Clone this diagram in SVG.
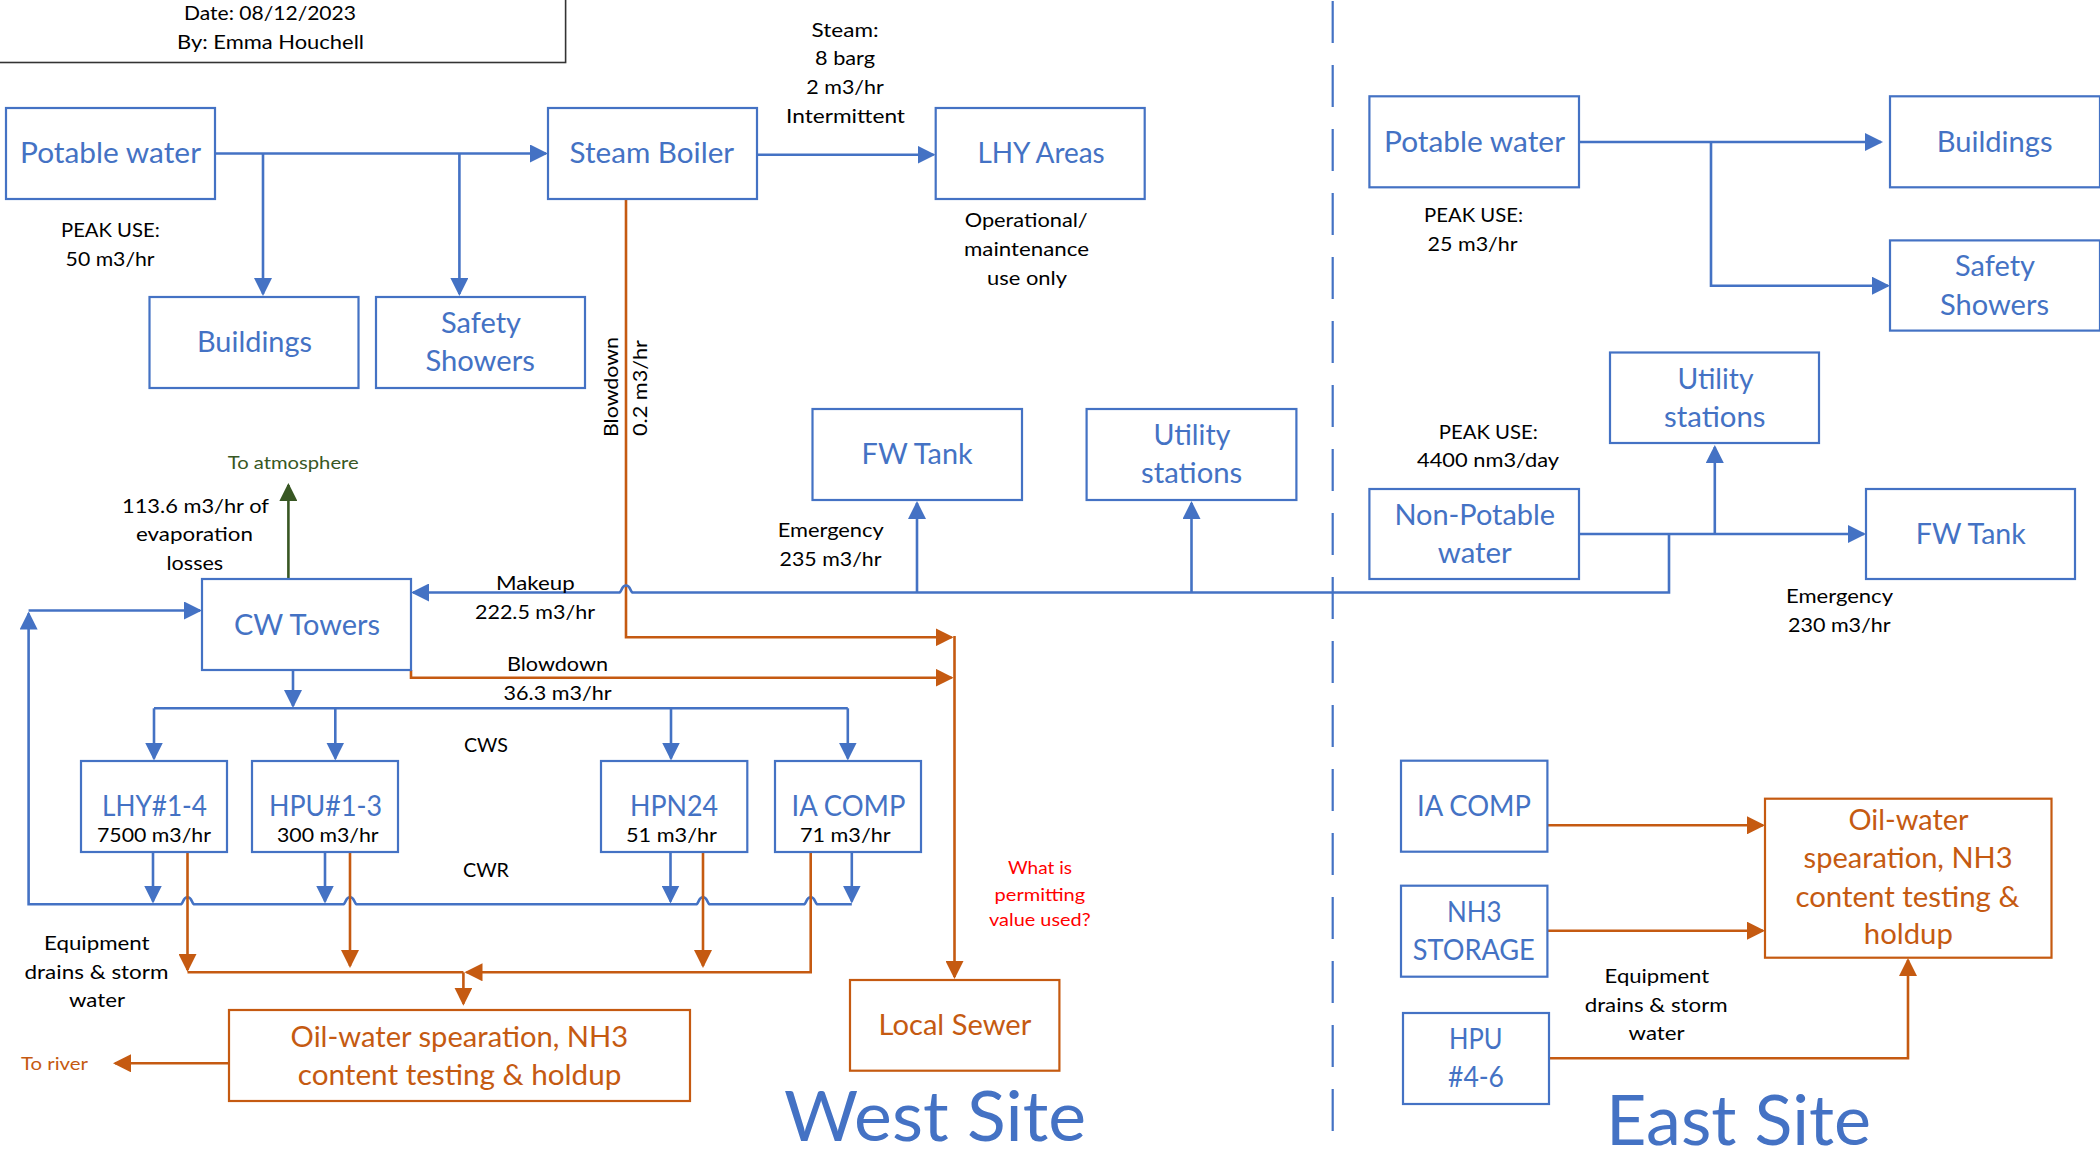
<svg xmlns="http://www.w3.org/2000/svg" width="2100" height="1151" viewBox="0 0 2100 1151">
<style>
text{font-family:"Lato","Carlito","Liberation Sans",sans-serif;white-space:pre}
rect{fill:#fff;stroke-width:2.2}
.b rect{stroke:#4472C4}
.o rect{stroke:#C55A11}
.bt{font-size:28px;fill:#4472C4}
.ot{font-size:28px;fill:#C55A11}
.k{font-size:20px;fill:#000}
.s{font-size:18px}
.site{font-size:70px;fill:#4472C4}
path{fill:none;stroke-width:2.6}
.lb{stroke:#4472C4}
.lo{stroke:#C55A11}
.lg{stroke:#385723}
.ab{marker-end:url(#ab)}
.ao{marker-end:url(#ao)}
.ag{marker-end:url(#ag)}
</style>
<defs>
<marker id="ab" markerUnits="userSpaceOnUse" markerWidth="18" markerHeight="18" refX="16" refY="9" orient="auto"><polygon points="0,0 18,9 0,18" fill="#4472C4"/></marker>
<marker id="ao" markerUnits="userSpaceOnUse" markerWidth="18" markerHeight="18" refX="16" refY="9" orient="auto"><polygon points="0,0 18,9 0,18" fill="#C55A11"/></marker>
<marker id="ag" markerUnits="userSpaceOnUse" markerWidth="18" markerHeight="18" refX="16" refY="9" orient="auto"><polygon points="0,0 18,9 0,18" fill="#385723"/></marker>
</defs>
<rect width="2100" height="1151" style="fill:#fff;stroke:none"/>

<g id="connectors">
<path class="lb ab" d="M215 153.5H546"/>
<path class="lb ab" d="M263 153.5V294"/>
<path class="lb ab" d="M459.4 153.5V294"/>
<path class="lb ab" d="M757 154.7H933.5"/>
<path class="lo ao" d="M626 199V637.3H951.6"/>
<path class="lb ab" d="M1579 534H1864"/>
<path class="lb ab" d="M1714.8 534V447"/>
<path class="lb ab" d="M1669 534V592.5H633c-3 0-2-7-7-7s-4 7-7 7H413"/>
<path class="lb ab" d="M917 592.5V503"/>
<path class="lb ab" d="M1191.5 592.5V503"/>
<path class="lg ag" d="M288.4 579V485"/>
<path class="lb ab" d="M851.8 904.3H817.7c-3 0-2-7-7-7s-4 7-7 7H710c-3 0-2-7-7-7s-4 7-7 7H357c-3 0-2-7-7-7s-4 7-7 7H194.5c-3 0-2-7-7-7s-4 7-7 7H28.6V613.5"/>
<path class="lb ab" d="M28.6 610.5H200"/>
<path class="lb ab" d="M293 670V706"/>
<path class="lb" d="M154 708.3H847.8"/>
<path class="lb ab" d="M154 708.3V758.5"/>
<path class="lb ab" d="M335.3 708.3V758.5"/>
<path class="lb ab" d="M671 708.3V758.5"/>
<path class="lb ab" d="M847.8 708.3V758.5"/>
<path class="lb ab" d="M153 852V901.5"/>
<path class="lb ab" d="M325 852V901.5"/>
<path class="lb ab" d="M670.5 852V901.5"/>
<path class="lb ab" d="M851.8 852V901.5"/>
<path class="lo ao" d="M411 670V677.7H951.6"/>
<path class="lo ao" d="M954.5 636V977"/>
<path class="lo ao" d="M187.5 851V970"/>
<path class="lo ao" d="M350 851V966"/>
<path class="lo ao" d="M703 851V966"/>
<path class="lo" d="M187.5 972.3H463.4"/>
<path class="lo ao" d="M810.7 851V972.3H466.5"/>
<path class="lo ao" d="M463.4 972.3V1003.7"/>
<path class="lo ao" d="M229 1063.3H115"/>
<path class="lb ab" d="M1579 142H1881"/>
<path class="lb ab" d="M1711 142V285.7H1888"/>
<path class="lo ao" d="M1547.4 825.3H1763"/>
<path class="lo ao" d="M1547.4 930.7H1763"/>
<path class="lo ao" d="M1549 1058.3H1908V960"/>
<path style="stroke:#4472C4;stroke-width:2.2;stroke-dasharray:42 22" d="M1332.7 1V1131"/>
</g>

<g id="title-block">
<rect x="-3" y="-3" width="568.6" height="65.5" style="stroke:#333;stroke-width:1.6"/>
<text class="k" x="184" y="20" textLength="172" lengthAdjust="spacingAndGlyphs">Date: 08/12/2023</text>
<text class="k" x="177" y="49" textLength="187" lengthAdjust="spacingAndGlyphs">By: Emma Houchell</text>
</g>

<g id="west-potable" class="b"><rect x="6" y="108" width="209" height="91"/><text class="bt" x="20" y="162.7" textLength="181" lengthAdjust="spacingAndGlyphs">Potable water</text></g>
<g id="west-boiler" class="b"><rect x="548" y="108" width="209" height="91"/><text class="bt" x="569.6" y="162.7" textLength="164.5" lengthAdjust="spacingAndGlyphs">Steam Boiler</text></g>
<g id="west-lhy-areas" class="b"><rect x="935.7" y="108" width="209" height="91"/><text class="bt" x="977.4" y="162.7" textLength="127.3" lengthAdjust="spacingAndGlyphs">LHY Areas</text></g>
<g id="west-buildings" class="b"><rect x="149.5" y="297" width="209" height="91"/><text class="bt" x="197" y="352" textLength="115" lengthAdjust="spacingAndGlyphs">Buildings</text></g>
<g id="west-showers" class="b"><rect x="376" y="297" width="209" height="91"/><text class="bt" x="441" y="332.7" textLength="80" lengthAdjust="spacingAndGlyphs">Safety</text><text class="bt" x="425.4" y="371" textLength="109.4" lengthAdjust="spacingAndGlyphs">Showers</text></g>
<g id="west-fw-tank" class="b"><rect x="812.5" y="409" width="209.5" height="91"/><text class="bt" x="861.6" y="464.3" textLength="111" lengthAdjust="spacingAndGlyphs">FW Tank</text></g>
<g id="west-utility" class="b"><rect x="1086.6" y="409" width="209.8" height="91"/><text class="bt" x="1153.6" y="445" textLength="76.8" lengthAdjust="spacingAndGlyphs">Utility</text><text class="bt" x="1141" y="483.3" textLength="101.3" lengthAdjust="spacingAndGlyphs">stations</text></g>
<g id="west-cw-towers" class="b"><rect x="202" y="579" width="209" height="91"/><text class="bt" x="234" y="635" textLength="146" lengthAdjust="spacingAndGlyphs">CW Towers</text></g>
<g id="west-lhy" class="b"><rect x="81" y="761" width="146" height="91"/><text class="bt" x="102" y="816" textLength="105" lengthAdjust="spacingAndGlyphs">LHY#1-4</text><text class="k" x="97" y="842" textLength="114" lengthAdjust="spacingAndGlyphs">7500 m3/hr</text></g>
<g id="west-hpu" class="b"><rect x="252" y="761" width="146" height="91"/><text class="bt" x="269" y="816" textLength="113" lengthAdjust="spacingAndGlyphs">HPU#1-3</text><text class="k" x="277" y="842" textLength="101.6" lengthAdjust="spacingAndGlyphs">300 m3/hr</text></g>
<g id="west-hpn" class="b"><rect x="601" y="761" width="146.3" height="91"/><text class="bt" x="630" y="816" textLength="88" lengthAdjust="spacingAndGlyphs">HPN24</text><text class="k" x="626" y="842" textLength="91" lengthAdjust="spacingAndGlyphs">51 m3/hr</text></g>
<g id="west-ia" class="b"><rect x="775" y="761" width="146" height="91"/><text class="bt" x="791.5" y="816" textLength="114" lengthAdjust="spacingAndGlyphs">IA COMP</text><text class="k" x="800" y="842" textLength="90.6" lengthAdjust="spacingAndGlyphs">71 m3/hr</text></g>
<g id="west-oil" class="o"><rect x="229" y="1010" width="461" height="91"/><text class="ot" x="290.6" y="1047" textLength="337.5" lengthAdjust="spacingAndGlyphs">Oil-water spearation, NH3</text><text class="ot" x="297.8" y="1085" textLength="323.6" lengthAdjust="spacingAndGlyphs">content testing &amp; holdup</text></g>
<g id="west-sewer" class="o"><rect x="850" y="980" width="209.4" height="90.7"/><text class="ot" x="878.6" y="1035" textLength="152.7" lengthAdjust="spacingAndGlyphs">Local Sewer</text></g>

<g id="east-potable" class="b"><rect x="1369.4" y="96.3" width="209.6" height="91"/><text class="bt" x="1384" y="151.8" textLength="181" lengthAdjust="spacingAndGlyphs">Potable water</text></g>
<g id="east-buildings" class="b"><rect x="1890" y="96.3" width="210" height="91"/><text class="bt" x="1936.7" y="151.8" textLength="115.8" lengthAdjust="spacingAndGlyphs">Buildings</text></g>
<g id="east-showers" class="b"><rect x="1890" y="240.4" width="210" height="90.2"/><text class="bt" x="1955" y="275.5" textLength="80" lengthAdjust="spacingAndGlyphs">Safety</text><text class="bt" x="1940" y="314.7" textLength="109" lengthAdjust="spacingAndGlyphs">Showers</text></g>
<g id="east-utility" class="b"><rect x="1610" y="352.5" width="209" height="90.5"/><text class="bt" x="1677.5" y="389" textLength="76" lengthAdjust="spacingAndGlyphs">Utility</text><text class="bt" x="1664" y="427" textLength="101.5" lengthAdjust="spacingAndGlyphs">stations</text></g>
<g id="east-non-potable" class="b"><rect x="1369.4" y="489" width="209.6" height="90"/><text class="bt" x="1394.4" y="525.3" textLength="160.7" lengthAdjust="spacingAndGlyphs">Non-Potable</text><text class="bt" x="1437.8" y="563" textLength="74" lengthAdjust="spacingAndGlyphs">water</text></g>
<g id="east-fw-tank" class="b"><rect x="1866" y="489" width="209" height="90"/><text class="bt" x="1915.8" y="544" textLength="110" lengthAdjust="spacingAndGlyphs">FW Tank</text></g>
<g id="east-ia" class="b"><rect x="1401" y="760.7" width="146.4" height="91"/><text class="bt" x="1417" y="816" textLength="114" lengthAdjust="spacingAndGlyphs">IA COMP</text></g>
<g id="east-nh3" class="b"><rect x="1401" y="885.7" width="146.4" height="91"/><text class="bt" x="1447" y="921.7" textLength="54.6" lengthAdjust="spacingAndGlyphs">NH3</text><text class="bt" x="1412.8" y="960" textLength="122" lengthAdjust="spacingAndGlyphs">STORAGE</text></g>
<g id="east-hpu" class="b"><rect x="1403" y="1013" width="146" height="91"/><text class="bt" x="1449" y="1049" textLength="53.6" lengthAdjust="spacingAndGlyphs">HPU</text><text class="bt" x="1448" y="1087.3" textLength="56" lengthAdjust="spacingAndGlyphs">#4-6</text></g>
<g id="east-oil" class="o"><rect x="1765" y="798.7" width="286.5" height="159"/><text class="ot" x="1848.5" y="830" textLength="120" lengthAdjust="spacingAndGlyphs">Oil-water</text><text class="ot" x="1803.6" y="868.3" textLength="209" lengthAdjust="spacingAndGlyphs">spearation, NH3</text><text class="ot" x="1795.4" y="906.7" textLength="224" lengthAdjust="spacingAndGlyphs">content testing &amp;</text><text class="ot" x="1863.8" y="944.3" textLength="89" lengthAdjust="spacingAndGlyphs">holdup</text></g>

<g id="labels">
<text class="k" x="61" y="236.7" textLength="98.7" lengthAdjust="spacingAndGlyphs">PEAK USE:</text>
<text class="k" x="65.6" y="266" textLength="89" lengthAdjust="spacingAndGlyphs">50 m3/hr</text>
<text class="k" x="811.6" y="36.7" textLength="67" lengthAdjust="spacingAndGlyphs">Steam:</text>
<text class="k" x="815" y="65" textLength="60" lengthAdjust="spacingAndGlyphs">8 barg</text>
<text class="k" x="806.3" y="94" textLength="77.5" lengthAdjust="spacingAndGlyphs">2 m3/hr</text>
<text class="k" x="786" y="122.7" textLength="119" lengthAdjust="spacingAndGlyphs">Intermittent</text>
<text class="k" x="964.7" y="227.3" textLength="123" lengthAdjust="spacingAndGlyphs">Operational/</text>
<text class="k" x="964" y="256" textLength="125" lengthAdjust="spacingAndGlyphs">maintenance</text>
<text class="k" x="987" y="285" textLength="80" lengthAdjust="spacingAndGlyphs">use only</text>
<text class="k" transform="translate(618 437) rotate(-90)" textLength="100" lengthAdjust="spacingAndGlyphs">Blowdown</text>
<text class="k" transform="translate(647 436) rotate(-90)" textLength="96" lengthAdjust="spacingAndGlyphs">0.2 m3/hr</text>
<text class="s" style="fill:#385723" x="227.7" y="469.3" textLength="131" lengthAdjust="spacingAndGlyphs">To atmosphere</text>
<text class="k" x="122" y="512.7" textLength="147" lengthAdjust="spacingAndGlyphs">113.6 m3/hr of</text>
<text class="k" x="136" y="540.7" textLength="117" lengthAdjust="spacingAndGlyphs">evaporation</text>
<text class="k" x="166.5" y="570" textLength="56.7" lengthAdjust="spacingAndGlyphs">losses</text>
<text class="k" x="496" y="590" textLength="78.6" lengthAdjust="spacingAndGlyphs">Makeup</text>
<text class="k" x="475" y="619" textLength="120" lengthAdjust="spacingAndGlyphs">222.5 m3/hr</text>
<text class="k" x="507" y="670.7" textLength="101" lengthAdjust="spacingAndGlyphs">Blowdown</text>
<text class="k" x="503.6" y="700" textLength="108" lengthAdjust="spacingAndGlyphs">36.3 m3/hr</text>
<text class="k" x="464" y="751.7" textLength="44" lengthAdjust="spacingAndGlyphs">CWS</text>
<text class="k" x="463" y="876.7" textLength="46" lengthAdjust="spacingAndGlyphs">CWR</text>
<text class="k" x="777.7" y="536.7" textLength="106" lengthAdjust="spacingAndGlyphs">Emergency</text>
<text class="k" x="779.5" y="565.7" textLength="102" lengthAdjust="spacingAndGlyphs">235 m3/hr</text>
<text class="k" x="44" y="950" textLength="105.6" lengthAdjust="spacingAndGlyphs">Equipment</text>
<text class="k" x="24.5" y="979" textLength="144" lengthAdjust="spacingAndGlyphs">drains &amp; storm</text>
<text class="k" x="69" y="1006.7" textLength="56" lengthAdjust="spacingAndGlyphs">water</text>
<text class="s" style="fill:#C55A11" x="21" y="1070" textLength="67" lengthAdjust="spacingAndGlyphs">To river</text>
<text class="s" style="fill:#FF0000" x="1008" y="874" textLength="64" lengthAdjust="spacingAndGlyphs">What is</text>
<text class="s" style="fill:#FF0000" x="994.6" y="900.7" textLength="90.6" lengthAdjust="spacingAndGlyphs">permitting</text>
<text class="s" style="fill:#FF0000" x="989" y="926" textLength="101.6" lengthAdjust="spacingAndGlyphs">value used?</text>
<text class="site" x="784" y="1141" textLength="302" lengthAdjust="spacingAndGlyphs">West Site</text>
<text class="k" x="1424" y="222.4" textLength="99" lengthAdjust="spacingAndGlyphs">PEAK USE:</text>
<text class="k" x="1427.6" y="251" textLength="90" lengthAdjust="spacingAndGlyphs">25 m3/hr</text>
<text class="k" x="1438.8" y="438.8" textLength="99" lengthAdjust="spacingAndGlyphs">PEAK USE:</text>
<text class="k" x="1417" y="467" textLength="142" lengthAdjust="spacingAndGlyphs">4400 nm3/day</text>
<text class="k" x="1786" y="603" textLength="107" lengthAdjust="spacingAndGlyphs">Emergency</text>
<text class="k" x="1788" y="632" textLength="102.6" lengthAdjust="spacingAndGlyphs">230 m3/hr</text>
<text class="k" x="1604.6" y="983.3" textLength="104.6" lengthAdjust="spacingAndGlyphs">Equipment</text>
<text class="k" x="1584.7" y="1012.3" textLength="143" lengthAdjust="spacingAndGlyphs">drains &amp; storm</text>
<text class="k" x="1628.6" y="1040" textLength="56" lengthAdjust="spacingAndGlyphs">water</text>
<text class="site" x="1606" y="1145" textLength="265" lengthAdjust="spacingAndGlyphs">East Site</text>
</g>
</svg>
